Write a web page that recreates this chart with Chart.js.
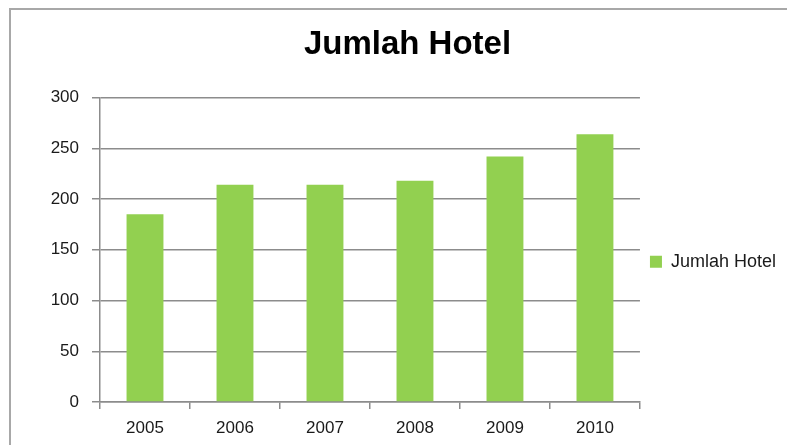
<!DOCTYPE html>
<html>
<head>
<meta charset="utf-8">
<script src="https://cdn.jsdelivr.net/npm/chart.js@4.4.1/dist/chart.umd.min.js"></script>
<style>
  html, body { margin: 0; padding: 0; background: #ffffff; overflow: hidden; }
  #frame {
    position: absolute; left: 9px; top: 8px; width: 800px; height: 460px;
    border-left: 2px solid #a8a8a8; border-top: 2px solid #a8a8a8;
  }
  #chart { position: absolute; left: 0; top: 0; }
</style>
</head>
<body>
<div id="frame"></div>
<canvas id="chart" width="787" height="445"></canvas>
<script>
const years = ['2005', '2006', '2007', '2008', '2009', '2010'];
const hotelCounts = [185, 214, 214, 218, 242, 264];
const yTicks = [0, 50, 100, 150, 200, 250, 300];

const chartTitle = 'Jumlah Hotel';
const seriesLabel = 'Jumlah Hotel';
const barColor = '#92D050';
const gridColor = '#8c8c8c';
const fontFamily = "'Liberation Sans', Arial, sans-serif";

const ctx = document.getElementById('chart');

new Chart(ctx, {
  type: 'bar',
  data: {
    labels: years,
    datasets: [{
      label: seriesLabel,
      data: hotelCounts,
      backgroundColor: barColor,
      borderWidth: 0,
      categoryPercentage: 1,
      barPercentage: 0.41
    }]
  },
  options: {
    responsive: false,
    animation: false,
    devicePixelRatio: 1,
    layout: {
      padding: { left: 29, right: 1, top: 0, bottom: 0 }
    },
    plugins: {
      title: {
        display: true,
        text: chartTitle,
        color: '#000000',
        font: { family: fontFamily, size: 33, weight: 'bold' },
        padding: { top: 25, bottom: 33 }
      },
      legend: {
        display: true,
        position: 'right',
        fullSize: false,
        title: {
          display: true,
          text: '',
          font: { size: 10, lineHeight: 1 },
          padding: { top: 14, bottom: 0 }
        },
        labels: {
          boxWidth: 12,
          boxHeight: 12,
          padding: 10,
          color: '#1a1a1a',
          font: { family: fontFamily, size: 18 }
        }
      },
      tooltip: { enabled: false }
    },
    scales: {
      x: {
        offset: true,
        grid: {
          display: true,
          offset: true,
          drawOnChartArea: false,
          drawTicks: true,
          tickLength: 7,
          color: gridColor,
          lineWidth: 1.5
        },
        border: { display: true, color: gridColor, width: 1.5 },
        ticks: {
          color: '#1a1a1a',
          padding: 9,
          font: { family: fontFamily, size: 17 }
        },
        afterFit: (scale) => { scale.height = 43; }
      },
      y: {
        min: 0,
        max: 300,
        afterBuildTicks: (scale) => {
          scale.ticks = yTicks.map(v => ({ value: v }));
        },
        grid: {
          color: gridColor,
          lineWidth: 1.5,
          drawTicks: true,
          tickLength: 8
        },
        border: { display: true, color: gridColor, width: 1.5 },
        ticks: {
          color: '#1a1a1a',
          padding: 13,
          font: { family: fontFamily, size: 17 }
        },
        afterFit: (scale) => { scale.width = 71; }
      }
    }
  }
});
</script>
</body>
</html>
